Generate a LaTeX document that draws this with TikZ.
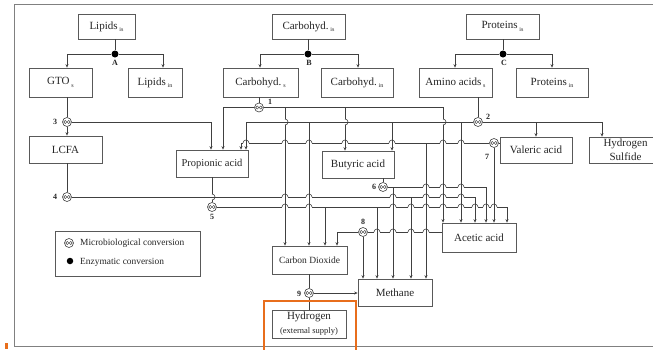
\documentclass[tikz,border=0pt]{standalone}
\usepackage{fontspec}
\setmainfont{Liberation Serif}
\usetikzlibrary{arrows.meta}
\definecolor{org}{RGB}{232,110,28}
\newcommand{\sbs}[1]{\,\raisebox{-0.45ex}{\fontsize{6}{6}\selectfont #1}}
\newcommand{\mybox}[6]{\node[bx, minimum width={(#4-#2)*1pt}, minimum height={(#5-#3)*1pt}] (#1) at ({(#2+#4)/2},{(#3+#5)/2}) {#6};}
\newcommand{\hh}[2]{\fill[white] ({#1-3.3},{#2-0.8}) rectangle ({#1+3.3},{#2+0.8}); \draw[ln] (#1,{#2-1.2}) -- (#1,{#2+1.2}); \draw[ln] ({#1-3},#2) arc (180:360:3);}
\newcommand{\vh}[2]{\fill[white] ({#1-0.8},{#2-3.3}) rectangle ({#1+0.8},{#2+3.3}); \draw[ln] ({#1-1.2},#2) -- ({#1+1.2},#2); \draw[ln] (#1,{#2-3}) arc (-90:90:3);}
\begin{document}
\begin{tikzpicture}[x=1pt,y=-1pt,
 bx/.style={draw=black!65, line width=0.7pt, inner sep=0pt, font=\fontsize{11}{14}\selectfont, align=center, text=black!85},
 ln/.style={draw=black!75, line width=0.6pt},
 ar/.style={ln, -{Stealth[length=3.5pt,width=3pt]}},
 mc/.style={circle, draw=black!75, line width=0.6pt, minimum size=9pt, inner sep=0pt, fill=white,
   path picture={\draw[black!75,line width=0.45pt] ([xshift=-1.7pt]path picture bounding box.center) circle (1.6pt) ([xshift=1.7pt]path picture bounding box.center) circle (1.6pt);}},
 ez/.style={circle, fill=black, minimum size=7pt, inner sep=0pt},
 num/.style={font=\fontsize{8}{9}\selectfont\bfseries, inner sep=0pt, text=black!85}
]
\useasboundingbox (0,0) rectangle (653,349);
\fill[white] (0,0) rectangle (653,349);
% frame
\draw[black!50, line width=0.8pt] (653,4) -- (14.5,4) -- (14.5,346.5) -- (653,346.5);
\fill[org] (5,343) rectangle (8,349);
% boxes
\mybox{lipis}{78}{14}{135}{39}{Lipids\sbs{is}}
\mybox{carbis}{272}{14}{345}{39}{Carbohyd.\sbs{is}}
\mybox{protis}{466}{14}{539}{39}{Proteins\sbs{is}}
\mybox{gto}{29}{68}{92}{97}{GTO\sbs{s}}
\mybox{lipin}{128}{68}{182}{97}{Lipids\sbs{in}}
\mybox{carbs}{223}{68}{298}{97}{Carbohyd.\sbs{s}}
\mybox{carbin}{321}{68}{393}{97}{Carbohyd.\sbs{in}}
\mybox{amino}{419}{68}{492}{97}{Amino acids\sbs{s}}
\mybox{protin}{516}{68}{588}{97}{Proteins\sbs{in}}
\mybox{lcfa}{29}{136}{102}{163}{LCFA}
\mybox{prop}{176}{150}{248}{177}{\fontsize{10.5}{12}\selectfont Propionic acid}
\mybox{but}{322}{151}{394}{178}{Butyric acid}
\mybox{val}{500}{137}{572}{163}{Valeric acid}
\mybox{h2s}{589}{137}{662}{163}{Hydrogen\\Sulfide}
\mybox{acet}{442}{223}{516}{252}{Acetic acid}
\mybox{co2}{272}{246}{347}{274}{\fontsize{9.5}{11}\selectfont Carbon Dioxide}
\mybox{meth}{358}{279}{432}{306}{Methane}
\mybox{hyd}{272}{310}{346}{338}{Hydrogen\\{\fontsize{8.5}{10}\selectfont (external supply)}}
\mybox{leg}{55}{231}{200}{276}{}
% enzymatic dots
\node[ez] (A) at (115,54) {};
\node[ez] (B) at (308,54) {};
\node[ez] (C) at (503,54) {};
% microbiological conversions
\node[mc] (c1) at (259,107.5) {};
\node[mc] (c2) at (478,122) {};
\node[mc] (c3) at (67,122) {};
\node[mc] (c4) at (67,197) {};
\node[mc] (c5) at (212,207) {};
\node[mc] (c6) at (383,187) {};
\node[mc] (c7) at (494,143) {};
\node[mc] (c8) at (363,232) {};
\node[mc] (c9) at (309,293) {};
% labels
\node[num] (nA) at (115,62.5) {A};
\node[num] (nB) at (309,62.5) {B};
\node[num] (nC) at (504,62.5) {C};
\node[num] (n1) at (270,102) {1};
\node[num] (n2) at (488,117) {2};
\node[num] (n3) at (55,122) {3};
\node[num] (n4) at (55,197) {4};
\node[num] (n5) at (212,217) {5};
\node[num] (n6) at (374,187) {6};
\node[num] (n7) at (487,157) {7};
\node[num] (n8) at (363,222) {8};
\node[num] (n9) at (299,294) {9};
% legend
\node[mc] (lc) at (69,243) {};
\node[anchor=west, inner sep=0pt, font=\fontsize{9.4}{11}\selectfont, text=black!85] (lt1) at (80,243) {Microbiological conversion};
\node[ez, minimum size=6.5pt] (ld) at (70,261) {};
\node[anchor=west, inner sep=0pt, font=\fontsize{9.4}{11}\selectfont, text=black!85] (lt2) at (80,262) {Enzymatic conversion};
% enzymatic splits
\draw[ln] (lipis.south -| A) -- (A);
\draw[ar] (A) -| (gto.north -| 67,0);
\draw[ar] (A) -| (lipin.north -| 163,0);
\draw[ln] (carbis.south -| B) -- (B);
\draw[ar] (B) -| (carbs.north -| 260,0);
\draw[ar] (B) -| (carbin.north -| 358,0);
\draw[ln] (protis.south -| C) -- (C);
\draw[ar] (C) -| (amino.north -| 455,0);
\draw[ar] (C) -| (protin.north -| 552,0);
% conversion 1
\draw[ln] (carbs.south -| c1) -- (c1);
\draw[ar] (c1) -| (prop.north -| 223,0);
\draw[ar] (c1) -| (acet.north -| 443,0);
\draw[ar] (c1 -| 285,0) -- (co2.north -| 285,0);
\draw[ar] (c1 -| 345,0) -- (but.north -| 345,0);
% conversion 2
\draw[ln] (amino.south -| c2) -- (c2);
\draw[ar] (c2) -| (prop.north -| 246,0);
\draw[ar] (c2) -| (h2s.north -| 602,0);
\draw[ar] (c2 -| val.north) -- (val.north);
\draw[ar] (c2 -| 461,0) -- (acet.north -| 461,0);
\draw[ar] (c2 -| 392,0) -- (but.north -| 392,0);
\draw[ar] (c2 -| 309,0) -- (co2.north -| 309,0);
% conversion 3
\draw[ln] (gto.south -| c3) -- (c3);
\draw[ar] (c3) -- (lcfa.north -| c3);
\draw[ar] (c3) -| (prop.north -| 211,0);
% conversion 4
\draw[ln] (lcfa.south -| c4) -- (c4);
\draw[ar] (c4) -| (acet.north -| 475,0);
\draw[ar] (c4 -| 411,0) -- (meth.north -| 411,0);
% conversion 5
\draw[ln] (prop.south -| c5) -- (c5);
\draw[ar] (c5) -| (acet.north -| 507,0);
\draw[ar] (c5 -| 325,0) -- (co2.north -| 325,0);
\draw[ar] (c5 -| 377,0) -- (meth.north -| 377,0);
% conversion 6
\draw[ln] (but.south -| c6) -- (c6);
\draw[ar] (c6) -| (acet.north -| 486,0);
\draw[ar] (c6 -| 393,0) -- (meth.north -| 393,0);
% conversion 7
\draw[ln] (c7) -- (val.west |- c7);
\draw[ar] (c7) -| (prop.north -| 241,0);
\draw[ar] (c7) -- (acet.north -| c7);
\draw[ar] (c7 -| 426,0) -- (meth.north -| 426,0);
% conversion 8
\draw[ln] (acet.west |- c8) -- (c8);
\draw[ar] (c8) -| (co2.north -| 337,0);
\draw[ar] (c8) -- (meth.north -| c8);
% conversion 9
\draw[ln] (co2.south -| c9) -- (c9);
\draw[ln] (c9) -- (hyd.north -| c9);
\draw[ar] (c9) -- (meth.west |- c9);
% hops
\foreach \x in {461,443,392,345,309,285,246} {\hh{\x}{143}}
\foreach \x in {426,443,461} {\hh{\x}{187}}
\foreach \x in {285,309,393,426,443,461} {\hh{\x}{197}}
\foreach \x in {285,309,393,411,426,443,461,475,486,494} {\hh{\x}{207}}
\foreach \x in {377,393,411,426} {\hh{\x}{232}}
\vh{443}{122} \vh{345}{122} \vh{285}{122} \vh{212}{197}
% orange highlight
\draw[org, line width=2pt] (264,352) -- (264,301) -- (355.5,301) -- (355.5,352);
\end{tikzpicture}
\end{document}
